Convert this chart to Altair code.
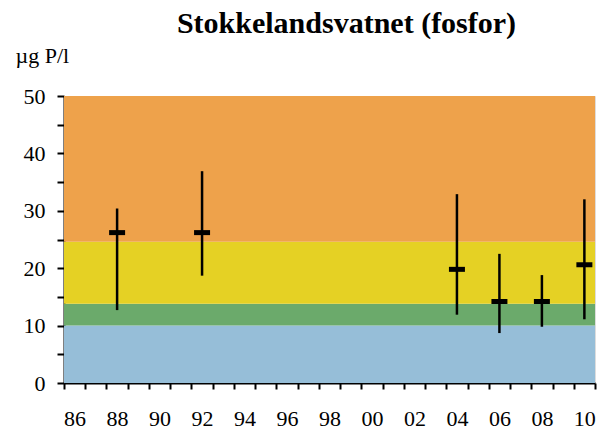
import altair as alt
import pandas as pd

# measurement years and total phosphorus (µg P/l): mean, min, max
years = [1988, 1992, 2004, 2006, 2008, 2010]
mean_p = [26.2, 26.2, 19.8, 14.2, 14.2, 20.6]
min_p = [12.7, 18.7, 11.9, 8.7, 9.8, 11.1]
max_p = [30.4, 36.9, 32.9, 22.5, 18.8, 32.0]

# background condition bands
band_lo = [0, 10, 13.8, 24.6]
band_hi = [10, 13.8, 24.6, 50]
band_colors = ["#96BED8", "#6BAA6B", "#E5D124", "#EEA24B"]

# x axis ticks at category boundaries, y ticks
x_ticks = [1985.5 + i for i in range(26)]
y_ticks = [0, 5, 10, 15, 20, 25, 30, 35, 40, 45, 50]

df = pd.DataFrame({"year": years, "mean": mean_p, "lo": min_p, "hi": max_p})
bands = pd.DataFrame({"lo": band_lo, "hi": band_hi, "color": band_colors})

FONT = "Liberation Serif, Times New Roman, Times, serif"

x_scale = alt.Scale(domain=[1985.5, 2010.5], nice=False, zero=False)
y_scale = alt.Scale(domain=[0, 50], nice=False)

x_axis = alt.Axis(
    values=x_ticks,
    labelExpr="(datum.value - 1985.5) % 2 == 0 ? substring(toString(datum.value + 0.5), 2, 4) : ''",
    labelOffset=10.6,
    labelFlush=False,
    labelOverlap=False,
    labelBound=False,
    labelFont=FONT,
    labelFontSize=22,
    labelColor="black",
    labelBaseline="alphabetic",
    labelPadding=36,
    tickSize=6,
    tickWidth=2,
    tickColor="black",
    domainColor="black",
    domainWidth=2,
    grid=False,
    title=None,
)

y_axis = alt.Axis(
    values=y_ticks,
    labelExpr="datum.value % 10 == 0 ? datum.label : ''",
    labelFont=FONT,
    labelFontSize=22,
    labelColor="black",
    labelPadding=12,
    labelOverlap=False,
    labelFlush=False,
    tickSize=7,
    tickWidth=2,
    tickColor="black",
    domainColor="black",
    domainWidth=2,
    grid=False,
    title="µg P/l",
    titleFont=FONT,
    titleFontSize=22,
    titleFontWeight="normal",
    titleColor="black",
    titleAngle=0,
    titleAlign="left",
    titleBaseline="alphabetic",
    titleX=-49,
    titleY=-34,
)

band_layer = alt.Chart(bands).mark_rect().encode(
    y=alt.Y("lo:Q", scale=y_scale, axis=y_axis),
    y2="hi:Q",
    color=alt.Color("color:N", scale=None),
)

rule_layer = alt.Chart(df).mark_rule(color="black", strokeWidth=2.5).encode(
    x=alt.X("year:Q", scale=x_scale, axis=x_axis),
    y=alt.Y("lo:Q", scale=y_scale, axis=y_axis),
    y2="hi:Q",
)

mean_layer = alt.Chart(df).mark_tick(
    orient="horizontal", size=16, thickness=5, color="black", opacity=1
).encode(
    x=alt.X("year:Q", scale=x_scale, axis=x_axis),
    y=alt.Y("mean:Q", scale=y_scale, axis=y_axis),
)

chart = alt.layer(band_layer, rule_layer, mean_layer).properties(
    width=531,
    height=287,
    autosize=alt.AutoSizeParams(type="none"),
    padding={"left": 56, "top": 88, "right": 4, "bottom": 48},
    title=alt.TitleParams(
        "Stokkelandsvatnet (fosfor)",
        font=FONT,
        fontSize=30,
        fontWeight="bold",
        color="black",
        anchor="middle",
        baseline="alphabetic",
        dx=17,
        dy=35,
        offset=16,
    ),
).configure_view(stroke="#333333", strokeWidth=2).configure(background="white")

chart.save("out.html", embed_options={"renderer": "svg", "actions": False})
